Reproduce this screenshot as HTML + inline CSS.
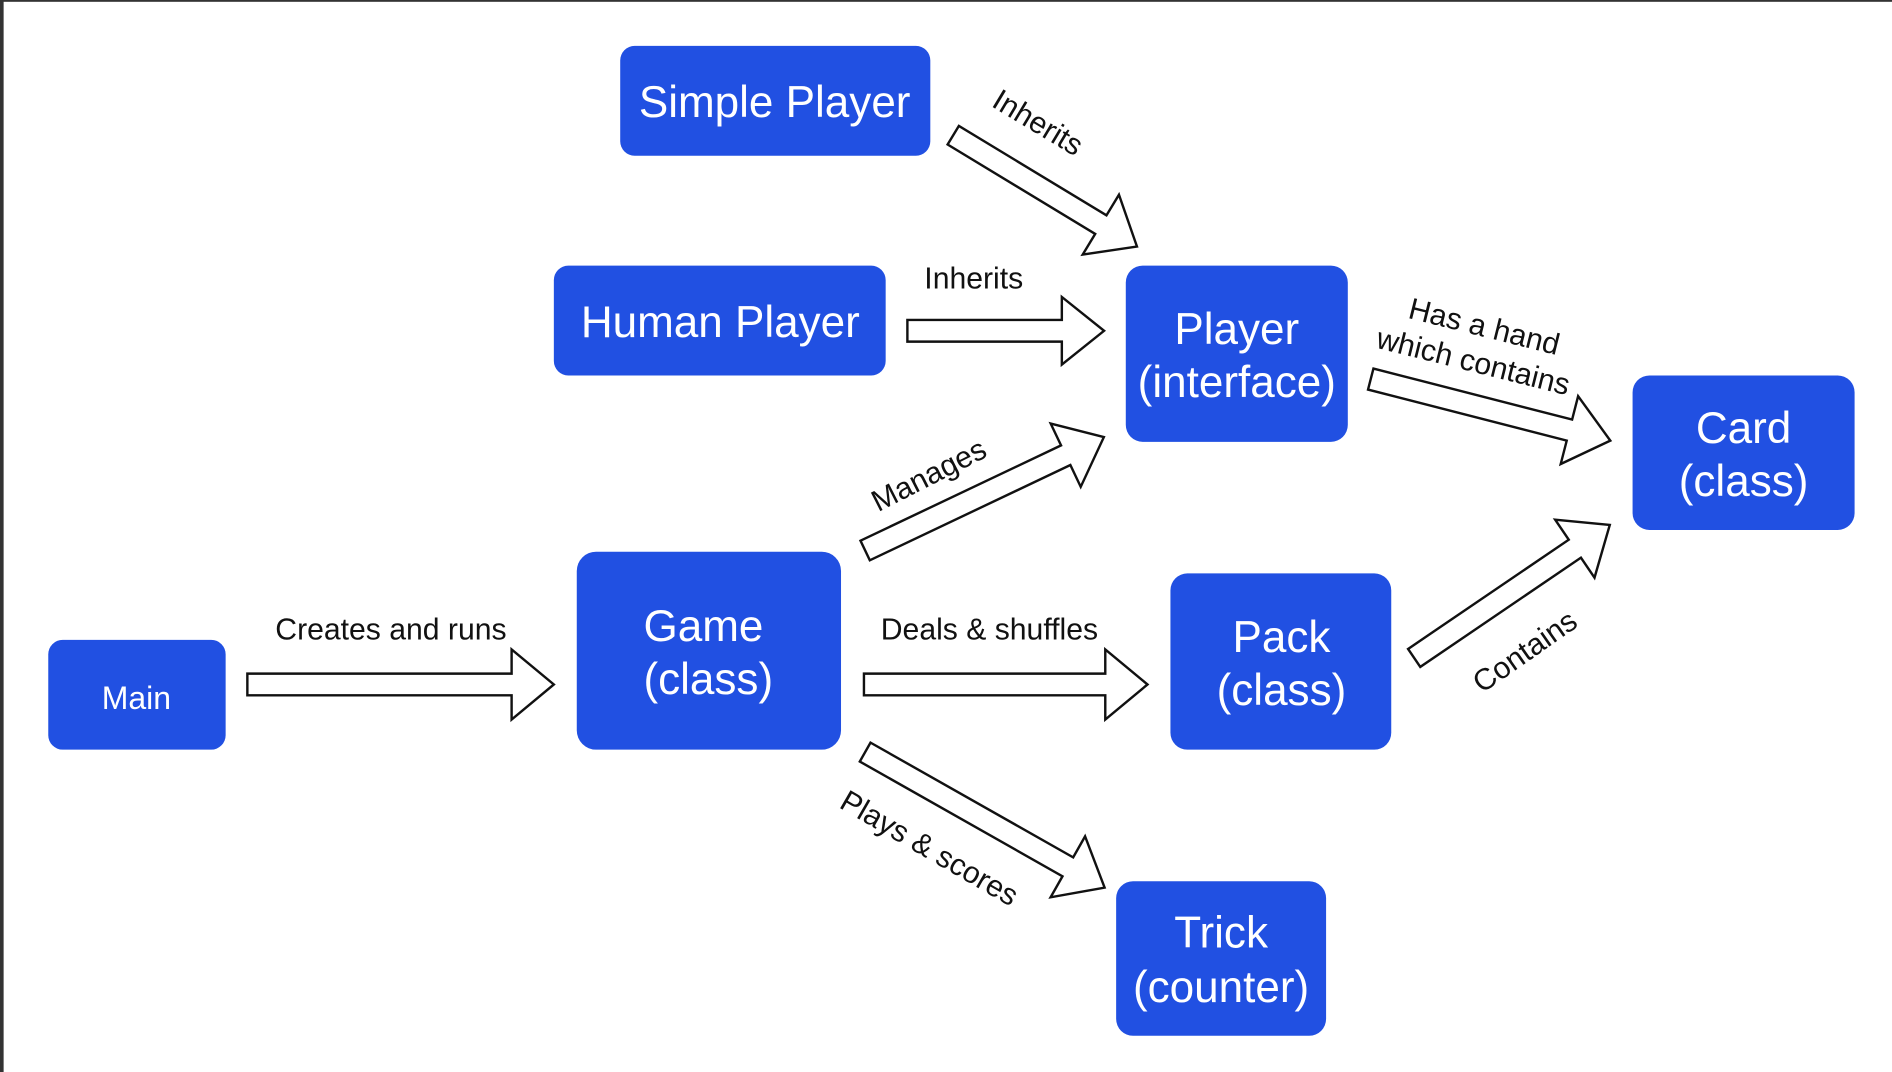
<!DOCTYPE html>
<html><head><style>
html,body{margin:0;padding:0;background:#fff;}
svg{display:block;}
text{font-family:"Liberation Sans",Arial,sans-serif;}
.b{fill:#2150e2;}
.bt{fill:#fff;font-size:36.5px;text-anchor:middle;dominant-baseline:central;}
.l{fill:#111;font-size:25px;text-anchor:middle;dominant-baseline:central;}
.a{fill:#fff;stroke:#111;stroke-width:2;}
</style></head><body>
<svg width="1892" height="1072" viewBox="0 0 1568 888" preserveAspectRatio="none">
<rect x="0" y="0" width="1568" height="888" fill="#fff"/>
<rect x="0" y="0" width="3" height="888" fill="#333"/>
<rect x="0" y="0" width="1568" height="1.5" fill="#333"/>
<!-- boxes -->
<rect class="b" x="514" y="38" width="257" height="91" rx="12"/>
<rect class="b" x="459" y="220" width="275" height="91" rx="12"/>
<rect class="b" x="933" y="220" width="184" height="146" rx="14"/>
<rect class="b" x="1353" y="311" width="184" height="128" rx="14"/>
<rect class="b" x="40" y="530" width="147" height="91" rx="12"/>
<rect class="b" x="478" y="457" width="219" height="164" rx="16"/>
<rect class="b" x="970" y="475" width="183" height="146" rx="14"/>
<rect class="b" x="925" y="730" width="174" height="128" rx="14"/>
<text class="bt" x="642" y="85">Simple Player</text>
<text class="bt" x="597" y="267">Human Player</text>
<text class="bt" x="1025" y="273">Player</text>
<text class="bt" x="1025" y="317">(interface)</text>
<text class="bt" x="1445" y="355">Card</text>
<text class="bt" x="1445" y="399">(class)</text>
<text class="bt" x="113" y="578" style="font-size:26.5px">Main</text>
<text class="bt" x="583" y="519">Game</text>
<text class="bt" x="587" y="563">(class)</text>
<text class="bt" x="1062" y="528">Pack</text>
<text class="bt" x="1062" y="572">(class)</text>
<text class="bt" x="1012" y="773">Trick</text>
<text class="bt" x="1012" y="818">(counter)</text>
<g class="a">
<g transform="translate(790,112) rotate(31.2)"><polygon points="0,-9 143,-9 143,-29 178,0 143,29 143,9 0,9"/></g>
<g transform="translate(752,274) rotate(0)"><polygon points="0,-9 128,-9 128,-28 163,0 128,28 128,9 0,9"/></g>
<g transform="translate(717,456) rotate(-25.4)"><polygon points="0,-9 184,-9 184,-29 219,0 184,29 184,9 0,9"/></g>
<g transform="translate(1136,314) rotate(14.4)"><polygon points="0,-9 170,-9 170,-29 205,0 170,29 170,9 0,9"/></g>
<g transform="translate(1172,545) rotate(-34.2)"><polygon points="0,-9 161,-9 161,-29 196,0 161,29 161,9 0,9"/></g>
<g transform="translate(205,567)"><polygon points="0,-9 219,-9 219,-29 254,0 219,29 219,9 0,9"/></g>
<g transform="translate(716,567)"><polygon points="0,-9 200,-9 200,-29 235,0 200,29 200,9 0,9"/></g>
<g transform="translate(717,623) rotate(29.5)"><polygon points="0,-9 193,-9 193,-29 228,0 193,29 193,9 0,9"/></g>
</g>
<text class="l" transform="translate(860,102) rotate(31)">Inherits</text>
<text class="l" x="807" y="231">Inherits</text>
<text class="l" transform="translate(770,394) rotate(-27)">Manages</text>
<text class="l" transform="translate(1230,271) rotate(14)">Has a hand</text>
<text class="l" transform="translate(1221,300) rotate(14)">which contains</text>
<text class="l" transform="translate(1264,540) rotate(-35)">Contains</text>
<text class="l" x="324" y="522">Creates and runs</text>
<text class="l" x="820" y="522">Deals &amp; shuffles</text>
<text class="l" transform="translate(770,703) rotate(30)">Plays &amp; scores</text>
</svg>
</body></html>
